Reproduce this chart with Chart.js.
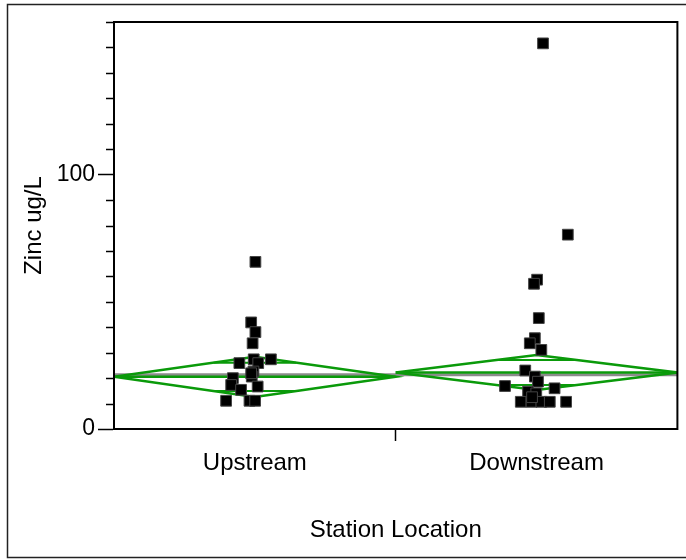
<!DOCTYPE html>
<html>
<head>
<meta charset="utf-8">
<script src="https://cdn.jsdelivr.net/npm/chart.js@4.4.1/dist/chart.umd.min.js"></script>
<style>
  html, body { margin: 0; padding: 0; background: #fff; }
  #wrap { width: 686px; height: 560px; }
</style>
</head>
<body>
<div id="wrap"><canvas id="zincChart" width="686" height="560"></canvas></div>
<script>
// groups on the x axis
const groups = ['Upstream', 'Downstream'];

// zinc readings (ug/L) per station, with the horizontal jitter seen in the plot
const upstreamZinc   = [65.7, 41.9, 38.1, 33.7, 27.4, 25.9, 27.4, 25.9, 22.6, 20.6, 20.0, 17.3, 15.4, 16.7, 11.1, 11.1, 11.1, 21.9];
const upstreamJitter = [0.002, -0.013, 0.002, -0.008, -0.004, 0.012, 0.057, -0.055, -0.005, -0.011, -0.078, -0.084, -0.049, 0.010, -0.102, -0.019, 0.001, -0.013];
const downstreamZinc   = [151.6, 76.4, 58.7, 57.1, 43.6, 35.7, 33.7, 31.1, 23.0, 20.6, 18.6, 16.9, 16.0, 14.7, 14.0, 10.7, 10.7, 10.7, 10.7, 10.7, 12.5];
const downstreamJitter = [0.023, 0.111, 0.002, -0.009, 0.008, -0.006, -0.024, 0.017, -0.040, -0.006, 0.005, -0.112, 0.064, -0.030, -0.001, -0.056, -0.018, 0.017, 0.047, 0.105, -0.016];

// means diamonds: group means and half width of the 95% interval
const groupMeans  = [20.5, 22.2];
const groupCIHalf = [7.9, 6.9];
const grandMean = 21.3;

// axis
const yMax = 160;
const yStep = 10;
const yLabelled = [0, 100];

const GREEN = '#0a9a0a';
const FONT = '"Liberation Sans", Arial, sans-serif';

function points(values, jitter, g) {
    return values.map((v, i) => ({ x: g + 0.5 + jitter[i], y: v }));
}

const datasets = [];
datasets.push({
    label: groups[0], data: points(upstreamZinc, upstreamJitter, 0),
    pointStyle: 'rect', pointRadius: 7.6, backgroundColor: '#000', borderColor: '#444', borderWidth: 1, order: 0
});
datasets.push({
    label: groups[1], data: points(downstreamZinc, downstreamJitter, 1),
    pointStyle: 'rect', pointRadius: 7.6, backgroundColor: '#000', borderColor: '#444', borderWidth: 1, order: 0
});

groups.forEach((name, g) => {
    const m = groupMeans[g], h = groupCIHalf[g];
    const o = h / Math.SQRT2;
    const half = 0.5 * (1 - 1 / Math.SQRT2);
    datasets.push({
        label: name + ' diamond',
        data: [{ x: g, y: m }, { x: g + 0.5, y: m + h }, { x: g + 1, y: m }, { x: g + 0.5, y: m - h }, { x: g, y: m }],
        showLine: true, pointRadius: 0, borderColor: GREEN, borderWidth: 2.5, fill: false, order: 1
    });
    datasets.push({
        label: name + ' mean',
        data: [{ x: g, y: m }, { x: g + 1, y: m }],
        showLine: true, pointRadius: 0, borderColor: GREEN, borderWidth: 2.5, order: 1
    });
    datasets.push({
        label: name + ' overlap',
        data: [{ x: g + 0.5 - half, y: m + o }, { x: g + 0.5 + half, y: m + o }, { x: null, y: null },
               { x: g + 0.5 - half, y: m - o }, { x: g + 0.5 + half, y: m - o }],
        showLine: true, spanGaps: false, pointRadius: 0, borderColor: GREEN, borderWidth: 2, order: 1
    });
});

datasets.push({
    label: 'grand mean',
    data: [{ x: 0, y: grandMean }, { x: groups.length, y: grandMean }],
    showLine: true, pointRadius: 0, borderColor: '#8c8c8c', borderWidth: 3, order: 2
});

// outer frame, plot frame and short minor ticks on the y axis
const framePlugin = {
    id: 'frames',
    beforeDraw(chart) {
        const ctx = chart.ctx;
        ctx.save();
        ctx.fillStyle = '#fff';
        ctx.fillRect(0, 0, chart.width, chart.height);
        ctx.strokeStyle = '#222';
        ctx.lineWidth = 1.5;
        ctx.strokeRect(7.5, 4.5, chart.width, chart.height - 7);
        ctx.restore();
    },
    afterDraw(chart) {
        const ctx = chart.ctx;
        const a = chart.chartArea;
        const ys = chart.scales.y;
        ctx.save();
        ctx.strokeStyle = '#000';
        ctx.lineWidth = 2;
        ctx.strokeRect(a.left, a.top, a.right - a.left, a.bottom - a.top);
        ctx.lineWidth = 1.5;
        ys.ticks.forEach(t => {
            if (yLabelled.includes(t.value)) return;
            const py = Math.round(ys.getPixelForValue(t.value)) + 0.5;
            ctx.beginPath();
            ctx.moveTo(a.left - 8, py);
            ctx.lineTo(a.left, py);
            ctx.stroke();
        });
        ctx.restore();
    }
};

const ctx = document.getElementById('zincChart').getContext('2d');
const zincChart = new Chart(ctx, {
    type: 'scatter',
    data: { datasets: datasets },
    options: {
        responsive: false,
        animation: false,
        layout: { padding: { left: 0, top: 22, right: 6, bottom: 0 } },
        plugins: { legend: { display: false }, tooltip: { enabled: false } },
        scales: {
            x: {
                type: 'linear', min: 0, max: groups.length,
                afterBuildTicks: (scale) => { scale.ticks = [0.5, 1, 1.5].map(v => ({ value: v })); },
                afterFit: (scale) => { scale.height = 131; },
                ticks: {
                    autoSkip: false, maxRotation: 0, padding: 8, color: '#000',
                    font: { family: FONT, size: 24 },
                    callback: (v) => (v === 0.5 ? groups[0] : v === 1.5 ? groups[1] : '')
                },
                grid: {
                    drawOnChartArea: false, tickLength: 12, tickWidth: 1.5,
                    tickColor: (c) => (c.tick && c.tick.value === 1 ? '#000' : 'rgba(0,0,0,0)')
                },
                border: { color: '#000', width: 2 },
                title: {
                    display: true, text: 'Station Location', color: '#000',
                    font: { family: FONT, size: 24 },
                    padding: { top: 0, bottom: 15 }
                }
            },
            y: {
                min: 0, max: yMax,
                afterFit: (scale) => { scale.width = 114; },
                ticks: {
                    stepSize: yStep, autoSkip: false, padding: 3, color: '#000',
                    font: { family: FONT, size: 23 },
                    callback: (v) => (yLabelled.includes(v) ? v : '')
                },
                grid: {
                    drawOnChartArea: false, tickLength: 16, tickWidth: 1.5,
                    tickColor: (c) => (c.tick && yLabelled.includes(c.tick.value) ? '#000' : 'rgba(0,0,0,0)')
                },
                border: { color: '#000', width: 2 },
                title: {
                    display: true, text: 'Zinc ug/L', color: '#000',
                    font: { family: FONT, size: 24 },
                    padding: { top: 20, bottom: 0 }
                }
            }
        }
    },
    plugins: [framePlugin]
});
</script>
</body>
</html>
